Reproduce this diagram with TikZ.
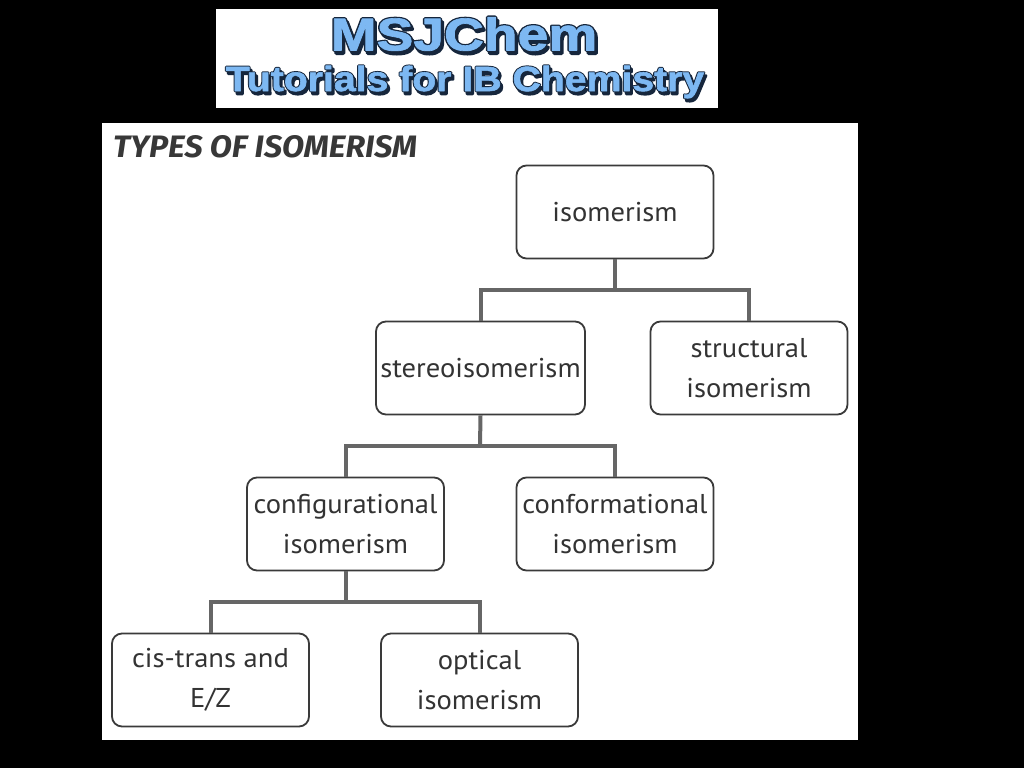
\documentclass[tikz,border=0pt]{standalone}
\usepackage{fontspec}
\setmainfont[FakeStretch=1.05]{PT Sans}
\newfontfamily\logoblue[BoldFeatures={FakeBold=1.5}]{Liberation Sans}
\newfontfamily\logoout[BoldFeatures={FakeBold=7}]{Liberation Sans}
\newfontfamily\titlefont{Fira Sans}
\definecolor{logocol}{HTML}{7DB8F2}
\definecolor{logodark}{HTML}{16263C}
\definecolor{boxline}{HTML}{3A3A3A}
\definecolor{connline}{HTML}{666666}
\definecolor{inktext}{HTML}{333333}
\tikzset{
  panel/.style={fill=white,draw=none},
  isobox/.style={draw=boxline,line width=1.8pt,rounded corners=10pt,fill=white,text=inktext,
    minimum width=#1,minimum height=93pt,inner sep=0pt,align=center,
    font=\fontsize{27.2}{40}\selectfont},
  isobox/.default=197pt,
  conn/.style={draw=connline,line width=4pt,line join=miter},
  heading/.style={inner sep=0pt,text=black!78,font=\titlefont\fontsize{31}{31}\selectfont\bfseries\itshape},
  logobig/.style={inner sep=0pt,xscale=1.2},
  logosmall/.style={inner sep=0pt,xscale=1.12},
}
\newcommand{\logotext}[6]{% name, style, size, x, y, text
  \node[#2,text=logodark,font=\logoout\fontsize{#3}{#3}\selectfont\bfseries] (#1s) at (#4+2,#5+3) {\special{pdf:code 1 j}#6};
  \node[#2,text=logodark,font=\logoout\fontsize{#3}{#3}\selectfont\bfseries] (#1o) at (#4,#5) {\special{pdf:code 1 j}#6};
  \node[#2,text=logocol,font=\logoblue\fontsize{#3}{#3}\selectfont\bfseries] (#1) at (#4,#5) {\special{pdf:code 1 j}#6};
}
\begin{document}
\begin{tikzpicture}[x=1pt,y=-1pt]
\useasboundingbox (0,0) rectangle (1024,768);
\fill[black] (0,0) rectangle (1024,768);
\fill[panel] (216,9) rectangle (718,108);
\fill[panel] (102,123) rectangle (858,740);
\logotext{logoa}{logobig}{46}{464}{34}{MSJChem}
\logotext{logob}{logosmall}{35}{465}{82}{Tutorials for IB Chemistry}
\node[heading,anchor=west,xscale=1.04] (title) at (113,147) {TYPES OF ISOMERISM};
\node[isobox] (iso) at (615,212) {isomerism};
\node[isobox=209pt] (stereo) at (480.5,368) {stereoisomerism};
\node[isobox] (struct) at (749,368) {structural\\isomerism};
\node[isobox] (config) at (345.5,524) {configurational\\isomerism};
\node[isobox] (conform) at (615,524) {conformational\\isomerism};
\node[isobox] (cis) at (210.5,680) {cis-trans and\\E/Z};
\node[isobox] (optical) at (479.5,680) {optical\\isomerism};
\coordinate (b1) at (615,290);
\coordinate (b2) at (480,446);
\coordinate (b3) at (345.5,602);
\draw[conn] (iso.south) -- (b1);
\draw[conn] (stereo.north) |- (b1) -| (struct.north);
\draw[conn] (stereo.south) -- (b2);
\draw[conn] (config.north) |- (b2) -| (conform.north);
\draw[conn] (config.south) -- (b3);
\draw[conn] (cis.north) |- (b3) -| (optical.north);
\end{tikzpicture}
\end{document}
